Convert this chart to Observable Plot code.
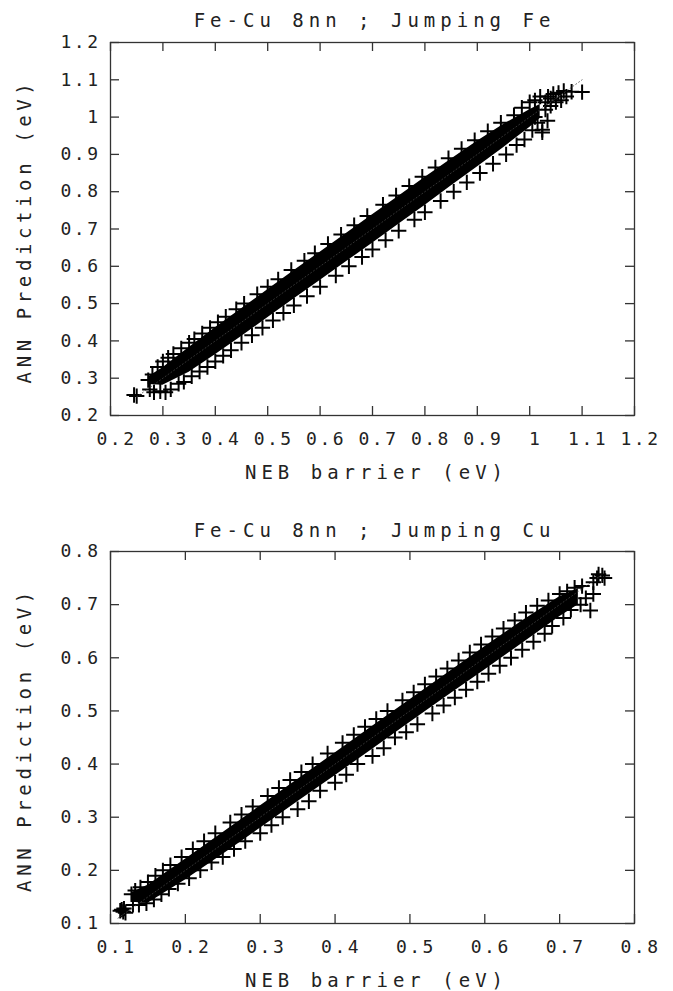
<!DOCTYPE html>
<html><head><meta charset="utf-8">
<script src="https://cdn.jsdelivr.net/npm/d3@7"></script>
<script src="https://cdn.jsdelivr.net/npm/@observablehq/plot@0.6"></script>
<style>
body{margin:0;background:#fff;}
#wrap{position:relative;width:673px;height:991px;overflow:hidden;background:#fff;}
#vline{position:absolute;left:13px;top:8px;width:1.5px;height:489px;background:#333;}
#wrap svg{position:absolute;left:0;display:block;}
</style></head><body><div id="wrap"><div id="vline"></div></div>
<script>
// ---- Chart 1: Jumping Fe ----
const feTitle = "Fe-Cu 8nn ; Jumping Fe";
const feTicks = [0.2, 0.3, 0.4, 0.5, 0.6, 0.7, 0.8, 0.9, 1.0, 1.1, 1.2];
const feDomain = [0.2, 1.2];
const feDiag = [0.25, 1.1];
// dense core of the point cloud: NEB value, lowest and highest prediction
const feBandX  = [0.272, 0.30, 0.35, 0.40, 0.45, 0.50, 0.55, 0.60, 0.65, 0.70, 0.75, 0.80, 0.85, 0.90, 0.95, 1.00, 1.02];
const feBandLo = [0.283, 0.281, 0.316, 0.363, 0.412, 0.462, 0.512, 0.562, 0.612, 0.662, 0.713, 0.763, 0.815, 0.866, 0.918, 0.972, 0.996];
const feBandHi = [0.303, 0.328, 0.382, 0.435, 0.486, 0.537, 0.588, 0.638, 0.688, 0.738, 0.788, 0.838, 0.887, 0.935, 0.980, 1.020, 1.034];
// individual scattered points at the edges of the cloud (NEB, ANN)
const fePointsX = [0.245,0.25,0.272,0.275,0.28,0.283,0.29,0.295,0.30,0.305,0.31,0.315,0.32,0.33,0.335,0.34,0.35,0.355,0.36,0.37,0.375,0.385,0.39,0.40,0.405,0.415,0.42,0.43,0.44,0.45,0.455,0.47,0.48,0.49,0.50,0.51,0.52,0.53,0.545,0.55,0.57,0.575,0.59,0.60,0.615,0.63,0.64,0.655,0.665,0.68,0.69,0.70,0.72,0.725,0.745,0.75,0.77,0.78,0.795,0.80,0.82,0.83,0.845,0.855,0.87,0.88,0.895,0.905,0.92,0.93,0.945,0.955,0.97,0.975,0.985,0.99,1.0,1.005,1.01,1.015,1.02,1.024,1.024,1.03,1.034,1.035,1.04,1.045,1.05,1.055,1.06,1.065,1.07,1.08,1.1,1.03,1.04,1.01];
const fePointsY = [0.255,0.252,0.295,0.27,0.31,0.262,0.33,0.265,0.345,0.262,0.355,0.27,0.365,0.285,0.38,0.29,0.395,0.305,0.405,0.318,0.42,0.33,0.435,0.345,0.45,0.36,0.465,0.375,0.485,0.395,0.50,0.415,0.525,0.435,0.545,0.455,0.565,0.475,0.59,0.495,0.615,0.52,0.635,0.545,0.66,0.575,0.685,0.60,0.71,0.625,0.735,0.645,0.765,0.67,0.79,0.695,0.815,0.725,0.84,0.745,0.865,0.775,0.89,0.80,0.915,0.825,0.938,0.85,0.962,0.875,0.985,0.90,1.005,0.925,1.025,0.94,1.04,0.965,1.045,0.985,1.055,0.959,0.966,1.02,0.99,1.055,1.03,1.062,1.04,1.065,1.045,1.07,1.055,1.068,1.067,1.04,1.05,1.0];

// ---- Chart 2: Jumping Cu ----
const cuTitle = "Fe-Cu 8nn ; Jumping Cu";
const cuTicks = [0.1, 0.2, 0.3, 0.4, 0.5, 0.6, 0.7, 0.8];
const cuDomain = [0.1, 0.8];
const cuDiag = [0.11, 0.76];
const cuBandX  = [0.128, 0.15, 0.20, 0.25, 0.30, 0.35, 0.40, 0.45, 0.50, 0.55, 0.60, 0.65, 0.70, 0.725];
const cuBandLo = [0.140, 0.138, 0.182, 0.230, 0.279, 0.329, 0.378, 0.428, 0.478, 0.528, 0.577, 0.627, 0.677, 0.700];
const cuBandHi = [0.158, 0.172, 0.221, 0.271, 0.321, 0.371, 0.421, 0.471, 0.521, 0.571, 0.621, 0.669, 0.715, 0.730];
const cuPointsX = [0.113,0.115,0.117,0.118,0.12,0.128,0.13,0.133,0.138,0.14,0.148,0.15,0.158,0.16,0.168,0.17,0.178,0.18,0.19,0.195,0.205,0.21,0.22,0.225,0.235,0.24,0.25,0.26,0.265,0.275,0.28,0.29,0.30,0.31,0.315,0.325,0.33,0.34,0.35,0.355,0.365,0.37,0.38,0.39,0.40,0.41,0.415,0.425,0.43,0.44,0.45,0.455,0.465,0.47,0.48,0.49,0.495,0.505,0.51,0.52,0.53,0.535,0.545,0.55,0.56,0.565,0.575,0.58,0.59,0.595,0.605,0.61,0.62,0.625,0.635,0.64,0.65,0.655,0.665,0.67,0.68,0.685,0.69,0.70,0.705,0.71,0.715,0.72,0.728,0.73,0.735,0.741,0.745,0.75,0.752,0.757,0.76,0.745];
const cuPointsY = [0.124,0.126,0.122,0.128,0.12,0.155,0.135,0.162,0.135,0.168,0.138,0.178,0.145,0.19,0.155,0.2,0.165,0.21,0.175,0.225,0.185,0.24,0.2,0.255,0.215,0.27,0.225,0.29,0.24,0.305,0.255,0.32,0.27,0.34,0.285,0.355,0.3,0.37,0.315,0.385,0.33,0.4,0.35,0.42,0.365,0.44,0.38,0.455,0.4,0.47,0.415,0.485,0.43,0.5,0.45,0.52,0.46,0.535,0.475,0.55,0.495,0.565,0.51,0.58,0.525,0.595,0.54,0.61,0.555,0.625,0.57,0.64,0.585,0.655,0.6,0.67,0.615,0.685,0.63,0.698,0.645,0.708,0.66,0.72,0.675,0.725,0.69,0.732,0.7,0.735,0.712,0.689,0.742,0.75,0.757,0.755,0.75,0.72];

const xLabel = "NEB barrier (eV)";
const yLabel = "ANN Prediction (eV)";
const fmt = d3.format("~g");
const FONT = "DejaVu Sans Mono, monospace";
const INK = "#222";

function chart({title, ticks, domain, diag, bandX, bandLo, bandHi, ptsX, ptsY, height, marginTop, marginBottom, titleDy}) {
  const band = bandX.map((x, i) => ({x, lo: bandLo[i], hi: bandHi[i]}));
  const pts = ptsX.map((x, i) => ({x, y: ptsY[i]}));
  const frameH = height - marginTop - marginBottom;
  const TL = 9;
  const svg = Plot.plot({
    width: 673, height, marginTop, marginBottom, marginLeft: 110, marginRight: 39,
    style: {fontFamily: FONT, background: "#fff", color: INK, overflow: "visible"},
    x: {domain, axis: null},
    y: {domain, axis: null},
    marks: [
      Plot.areaY(band, {x: "x", y1: "lo", y2: "hi", fill: "#000", curve: "linear"}),
      Plot.dot(pts, {x: "x", y: "y", symbol: "plus", r: 5, stroke: "#000", strokeWidth: 2}),
      Plot.line(diag, {x: d => d, y: d => d, stroke: "#444", strokeWidth: 0.8, strokeDasharray: "1,2.5"}),
      Plot.frame({stroke: "#333", strokeWidth: 1.3}),
      Plot.tickX(ticks, {x: d => d, insetTop: frameH - TL, stroke: "#333", strokeWidth: 1.3}),
      Plot.tickX(ticks, {x: d => d, insetBottom: frameH - TL, stroke: "#333", strokeWidth: 1.3}),
      Plot.tickY(ticks, {y: d => d, insetRight: 524 - TL, stroke: "#333", strokeWidth: 1.3}),
      Plot.tickY(ticks, {y: d => d, insetLeft: 524 - TL, stroke: "#333", strokeWidth: 1.3}),
      Plot.text(ticks, {x: d => d, text: d => fmt(d), frameAnchor: "bottom", dy: 24, dx: 6, lineAnchor: "middle", fontSize: 18, fill: INK}),
      Plot.text(ticks, {y: d => d, text: d => fmt(d), frameAnchor: "left", dx: -10, textAnchor: "end", lineAnchor: "middle", fontSize: 18, fill: INK}),
      Plot.text([title], {text: d => d, frameAnchor: "top", dy: titleDy, dx: 2, textAnchor: "middle", lineAnchor: "bottom", fontSize: 19, fill: INK}),
      Plot.text([xLabel], {text: d => d, frameAnchor: "bottom", dy: 63, dx: 4, textAnchor: "middle", lineAnchor: "bottom", fontSize: 19, fill: INK}),
      Plot.text([yLabel], {text: d => d, frameAnchor: "left", dx: -80, dy: 2, rotate: -90, textAnchor: "middle", lineAnchor: "bottom", fontSize: 19, fill: INK})
    ]
  });
  for (const t of svg.querySelectorAll("text")) {
    const s = t.textContent;
    if (s === title || s === xLabel) t.setAttribute("letter-spacing", "5");
    else if (s === yLabel) t.setAttribute("letter-spacing", "4.6");
    else t.setAttribute("letter-spacing", "2.5");
  }
  return svg;
}

const wrap = document.getElementById("wrap");
const c1 = chart({title: feTitle, ticks: feTicks, domain: feDomain, diag: feDiag, bandX: feBandX, bandLo: feBandLo, bandHi: feBandHi, ptsX: fePointsX, ptsY: fePointsY, height: 500, marginTop: 42, marginBottom: 85, titleDy: -16});
c1.style.top = "0px";
wrap.appendChild(c1);
const c2 = chart({title: cuTitle, ticks: cuTicks, domain: cuDomain, diag: cuDiag, bandX: cuBandX, bandLo: cuBandLo, bandHi: cuBandHi, ptsX: cuPointsX, ptsY: cuPointsY, height: 491, marginTop: 51, marginBottom: 68, titleDy: -15});
c2.style.top = "500px";
wrap.appendChild(c2);
</script>
</body></html>
